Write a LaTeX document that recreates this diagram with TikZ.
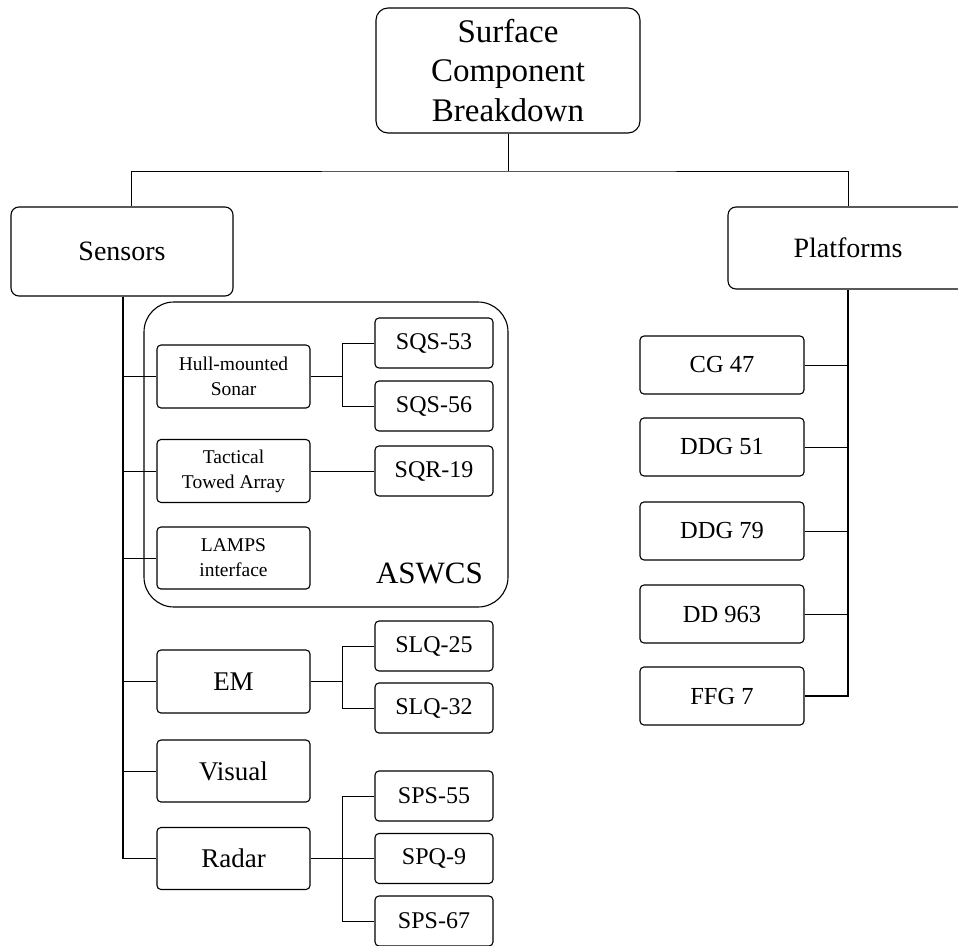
\documentclass[tikz,border=0pt]{standalone}
\usepackage{fontspec}
\setmainfont{Liberation Serif}
\usetikzlibrary{positioning,calc}

\begin{document}
\begin{tikzpicture}[x=1pt,y=-1pt,
  box/.style={draw, line width=1.1pt, rounded corners=4pt, align=center, inner sep=1pt},
  head/.style={box, rounded corners=8pt, minimum width=222pt, minimum height=89pt, font=\fontsize{28}{32}\selectfont},
  unit/.style={box, minimum width=153pt, minimum height=63pt},
  small/.style={font=\fontsize{19.5}{25}\selectfont},
  big/.style={font=\fontsize{27}{32}\selectfont},
  leaf/.style={box, minimum width=118pt, minimum height=50pt, font=\fontsize{24}{28}\selectfont},
  ship/.style={box, minimum width=164pt, minimum height=58pt, font=\fontsize{24.5}{28}\selectfont},
  link/.style={line width=0.9pt}]
\useasboundingbox (0,0) rectangle (958,945);
% top
\node[box, rounded corners=12pt, minimum width=264pt, minimum height=125pt,
  font=\fontsize{33}{39.5}\selectfont] (root) at (508,70.5) {Surface\\Component\\Breakdown};
\node[head] (sensors) at (122,251.5) {Sensors};
\node[head, minimum width=240pt, minimum height=82pt] (platforms) at (848,248) {Platforms};
\coordinate (split) at (508,171);
\draw[link] (root.south) -- (split);
\draw[link] ([xshift=9pt]sensors.north) |- (split) -| (platforms.north);
% ASWCS group
\draw[line width=1.1pt, rounded corners=30pt] (144,302) rectangle (508,607);
\node[anchor=base, font=\fontsize{31}{34}\selectfont] (aswcs) at (429.5,583) {ASWCS};
% sensor units
\node[unit, small] (hull) at (233.5,376.5) {Hull-mounted\\Sonar};
\node[unit, small] (tact) at (233.5,471) {Tactical\\Towed Array};
\node[unit, small, minimum height=62pt] (lamps) at (233.5,558) {LAMPS\\interface};
\node[unit, big] (em) at (233.5,681.5) {EM};
\node[unit, big, minimum height=62pt] (visual) at (233.5,771) {Visual};
\node[unit, big, minimum height=62pt] (radar) at (233.5,858.5) {Radar};
% sensor leaves
\foreach \n/\y/\l in {sqs53/343/SQS-53, sqs56/406/SQS-56, sqr19/471/SQR-19,
  slq25/646/SLQ-25, slq32/708/SLQ-32, sps55/796/SPS-55, spq9/858.5/SPQ-9, sps67/921/SPS-67}
  \node[leaf] (\n) at (434,\y) {\l};
% platforms
\foreach \n/\y/\l in {cg/365/CG 47, ddga/447/DDG 51, ddgb/531/DDG 79, dd/614/DD 963, ffg/696/FFG 7}
  \node[ship] (\n) at (722,\y) {\l};
% sensor tree
\draw[link, line width=1.2pt] ([xshift=1pt]sensors.south) |- (radar.west);
\foreach \n in {hull,tact,lamps,em,visual}
  \draw[link] ([xshift=1pt]sensors.south |- \n.west) -- (\n.west);
\draw[link] (hull.east) -- ++(32,0) coordinate (hb);
\draw[link] (sqs53.west) -| (hb) |- (sqs56.west);
\draw[link] (tact.east) -- (sqr19.west);
\draw[link] (em.east) -- ++(32,0) coordinate (eb);
\draw[link] (slq25.west) -| (eb) |- (slq32.west);
\draw[link] (radar.east) -- (spq9.west);
\draw[link] (sps55.west) -| ($(radar.east)+(32,0)$) |- (sps67.west);
% platform tree
\draw[link, line width=1.2pt] (platforms.south) |- (ffg.east);
\foreach \n in {cg,ddga,ddgb,dd}
  \draw[link] (\n.east) -- (platforms.south |- \n.east);
\end{tikzpicture}
\end{document}
